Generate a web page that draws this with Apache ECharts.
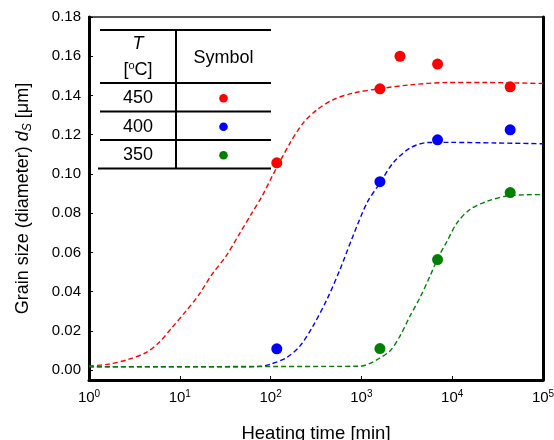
<!DOCTYPE html>
<html>
<head>
<meta charset="utf-8">
<script src="https://cdn.jsdelivr.net/npm/echarts@6.0.0/dist/echarts.min.js"></script>
<style>
  html, body { margin: 0; padding: 0; background: #fff; }
  #chart { width: 554px; height: 440px; }
</style>
</head>
<body>
<div id="chart"></div>
<script>
// Annealing temperatures [°C] and their marker colours
const temperatures = ['450', '400', '350'];
const seriesColors = ['#ff0000', '#0000ff', '#008000'];

// Measured grain sizes (heating time in min, diameter in µm)
const measTime450 = [117, 1600, 2660, 6900, 43500];
const measSize450 = [0.1057, 0.1434, 0.1600, 0.1560, 0.1444];
const measTime400 = [117, 1600, 6900, 43500];
const measSize400 = [0.0109, 0.0961, 0.1174, 0.1225];
const measTime350 = [1600, 6900, 43500];
const measSize350 = [0.0110, 0.0564, 0.0905];

// Fitted growth curves
const fitTime450 = [1, 1.66, 2.76, 4.24, 5.9, 8.2, 11.7, 16.3, 22.6, 32.3, 44.9, 62.4, 80.4, 104, 164, 228, 324, 486, 807, 1600, 3430, 8720, 24000, 100000];
const fitSize450 = [0.0022, 0.0031, 0.0056, 0.0090, 0.0141, 0.0217, 0.0301, 0.0386, 0.0488, 0.0581, 0.0691, 0.0802, 0.0886, 0.0988, 0.1158, 0.1259, 0.1327, 0.1378, 0.1412, 0.1435, 0.1454, 0.1466, 0.1466, 0.1461];
const fitTime400 = [1, 70, 100, 151, 211, 293, 418, 581, 807, 1153, 1600, 2230, 3430, 5280, 9460, 30000, 100000];
const fitSize400 = [0.0017, 0.0018, 0.0031, 0.0065, 0.0124, 0.0225, 0.0361, 0.0513, 0.0683, 0.0853, 0.0954, 0.1056, 0.1132, 0.1160, 0.1161, 0.1158, 0.1154];
const fitTime350 = [1, 960, 1250, 1600, 2066, 2660, 3430, 4420, 5690, 6900, 8770, 11300, 15700, 24200, 43300, 100000];
const fitSize350 = [0.0018, 0.0020, 0.0035, 0.0062, 0.0098, 0.0174, 0.0276, 0.0370, 0.0479, 0.0568, 0.0657, 0.0751, 0.0819, 0.0861, 0.0890, 0.0895];

// Axis ranges
const timeMin = 1, timeMax = 100000;
const sizeMin = -0.005, sizeMax = 0.18;

const zip = (xs, ys) => xs.map((x, i) => [x, ys[i]]);
const measured = [zip(measTime450, measSize450), zip(measTime400, measSize400), zip(measTime350, measSize350)];
const fitted = [zip(fitTime450, fitSize450), zip(fitTime400, fitSize400), zip(fitTime350, fitSize350)];

const FONT = 'Liberation Sans, Arial, sans-serif';
const chart = echarts.init(document.getElementById('chart'), null, { renderer: 'canvas' });

const series = [];
temperatures.forEach((t, i) => {
  series.push({
    name: t + ' fit',
    type: 'line',
    data: fitted[i],
    smooth: 0.3,
    showSymbol: false,
    silent: true,
    z: 2,
    lineStyle: { color: seriesColors[i], width: 1.4, type: [5, 3] }
  });
});
temperatures.forEach((t, i) => {
  series.push({
    name: t,
    type: 'scatter',
    data: measured[i],
    symbol: 'circle',
    symbolSize: 11,
    z: 3,
    itemStyle: { color: seriesColors[i], opacity: 1 }
  });
});

// Legend table in the upper-left corner of the plot
const tbl = { x0: 100, x1: 271, xBottom0: 98, xMid: 176, yTop: 30, yHead: 83, rowH: 28.5, font: 18 };
const col1 = (tbl.x0 + tbl.xMid) / 2;
const col2 = (tbl.xMid + tbl.x1) / 2;
const tableGraphics = [];
const hLine = (xa, xb, y) => ({ type: 'line', silent: true, shape: { x1: xa, y1: y, x2: xb, y2: y }, style: { stroke: '#000', lineWidth: 2 } });
tableGraphics.push(hLine(tbl.x0, tbl.x1, tbl.yTop));
tableGraphics.push(hLine(tbl.x0, tbl.x1, tbl.yHead));
temperatures.forEach((t, i) => {
  const yLine = tbl.yHead + tbl.rowH * (i + 1);
  tableGraphics.push(hLine(i === temperatures.length - 1 ? tbl.xBottom0 : tbl.x0, tbl.x1, yLine));
  const yc = tbl.yHead + tbl.rowH * (i + 0.5) + 1;
  tableGraphics.push({ type: 'text', silent: true, style: { text: t, x: col1, y: yc, align: 'center', verticalAlign: 'middle', fontSize: tbl.font, fontFamily: FONT, fill: '#000' } });
  tableGraphics.push({ type: 'circle', silent: true, shape: { cx: col2, cy: yc, r: 4.3 }, style: { fill: seriesColors[i] } });
});
const yBottom = tbl.yHead + tbl.rowH * temperatures.length;
tableGraphics.push({ type: 'line', silent: true, shape: { x1: tbl.xMid, y1: tbl.yTop, x2: tbl.xMid, y2: yBottom }, style: { stroke: '#000', lineWidth: 2 } });
tableGraphics.push({ type: 'text', silent: true, style: { text: 'T', x: col1, y: 44, align: 'center', verticalAlign: 'middle', fontSize: tbl.font, fontStyle: 'italic', fontFamily: FONT, fill: '#000' } });
tableGraphics.push({ type: 'text', silent: true, style: {
  text: '[{sup|o}C]', x: col1, y: 70, align: 'center', verticalAlign: 'middle', fontSize: tbl.font, fontFamily: FONT, fill: '#000', lineHeight: 20,
  rich: { sup: { fontSize: 11, lineHeight: 11, verticalAlign: 'top', fontFamily: FONT, fill: '#000' } }
} });
tableGraphics.push({ type: 'text', silent: true, style: { text: 'Symbol', x: col2, y: 58, align: 'center', verticalAlign: 'middle', fontSize: tbl.font, fontFamily: FONT, fill: '#000' } });

chart.setOption({
  animation: false,
  backgroundColor: '#fff',
  textStyle: { fontFamily: FONT, color: '#000' },
  grid: {
    left: 89, right: 11, top: 17, bottom: 60,
    outerBoundsMode: 'none', containLabel: false,
    show: true, borderColor: '#555', borderWidth: 2
  },
  xAxis: {
    type: 'log', logBase: 10, min: timeMin, max: timeMax,
    axisLine: { show: true, onZero: false, lineStyle: { color: '#000', width: 3 } },
    axisTick: { show: true, inside: true, length: 4, lineStyle: { color: '#000', width: 1 } },
    splitLine: { show: false },
    axisLabel: {
      margin: 9, color: '#000', fontFamily: FONT,
      formatter: v => '{b|10}{e|' + Math.round(Math.log10(v)) + '}',
      rich: {
        b: { fontSize: 15, lineHeight: 18, fontFamily: FONT, color: '#000' },
        e: { fontSize: 10, lineHeight: 10, verticalAlign: 'top', fontFamily: FONT, color: '#000' }
      }
    },
    name: 'Heating time [min]', nameLocation: 'middle', nameGap: 44,
    nameTextStyle: { fontSize: 18.5, fontFamily: FONT, color: '#000' }
  },
  yAxis: [{
    type: 'value', min: sizeMin, max: sizeMax, splitNumber: 9,
    axisLine: { show: true, lineStyle: { color: '#000', width: 3 } },
    axisTick: { show: true, inside: true, length: 4, lineStyle: { color: '#000', width: 1 } },
    splitLine: { show: false },
    axisLabel: { fontSize: 15, margin: 8, color: '#000', fontFamily: FONT, showMinLabel: false,
      formatter: v => (v < -1e-9 ? '' : Math.abs(v).toFixed(2)) },
    name: 'Grain size (diameter) {i|d}{s|S} [μm]', nameLocation: 'middle', nameGap: 55, nameRotate: 90,
    nameTextStyle: {
      fontSize: 18, fontFamily: FONT, color: '#000', lineHeight: 22,
      rich: {
        i: { fontSize: 18, fontStyle: 'italic', lineHeight: 22, fontFamily: FONT, color: '#000' },
        s: { fontSize: 12, fontStyle: 'italic', lineHeight: 12, verticalAlign: 'bottom', fontFamily: FONT, color: '#000' }
      }
    }
  }, {
    type: 'value', min: sizeMin, max: sizeMax, position: 'right',
    axisLine: { show: true, lineStyle: { color: '#000', width: 3 } },
    axisTick: { show: false }, axisLabel: { show: false }, splitLine: { show: false }
  }],
  graphic: tableGraphics,
  series: series
});
</script>
</body>
</html>
